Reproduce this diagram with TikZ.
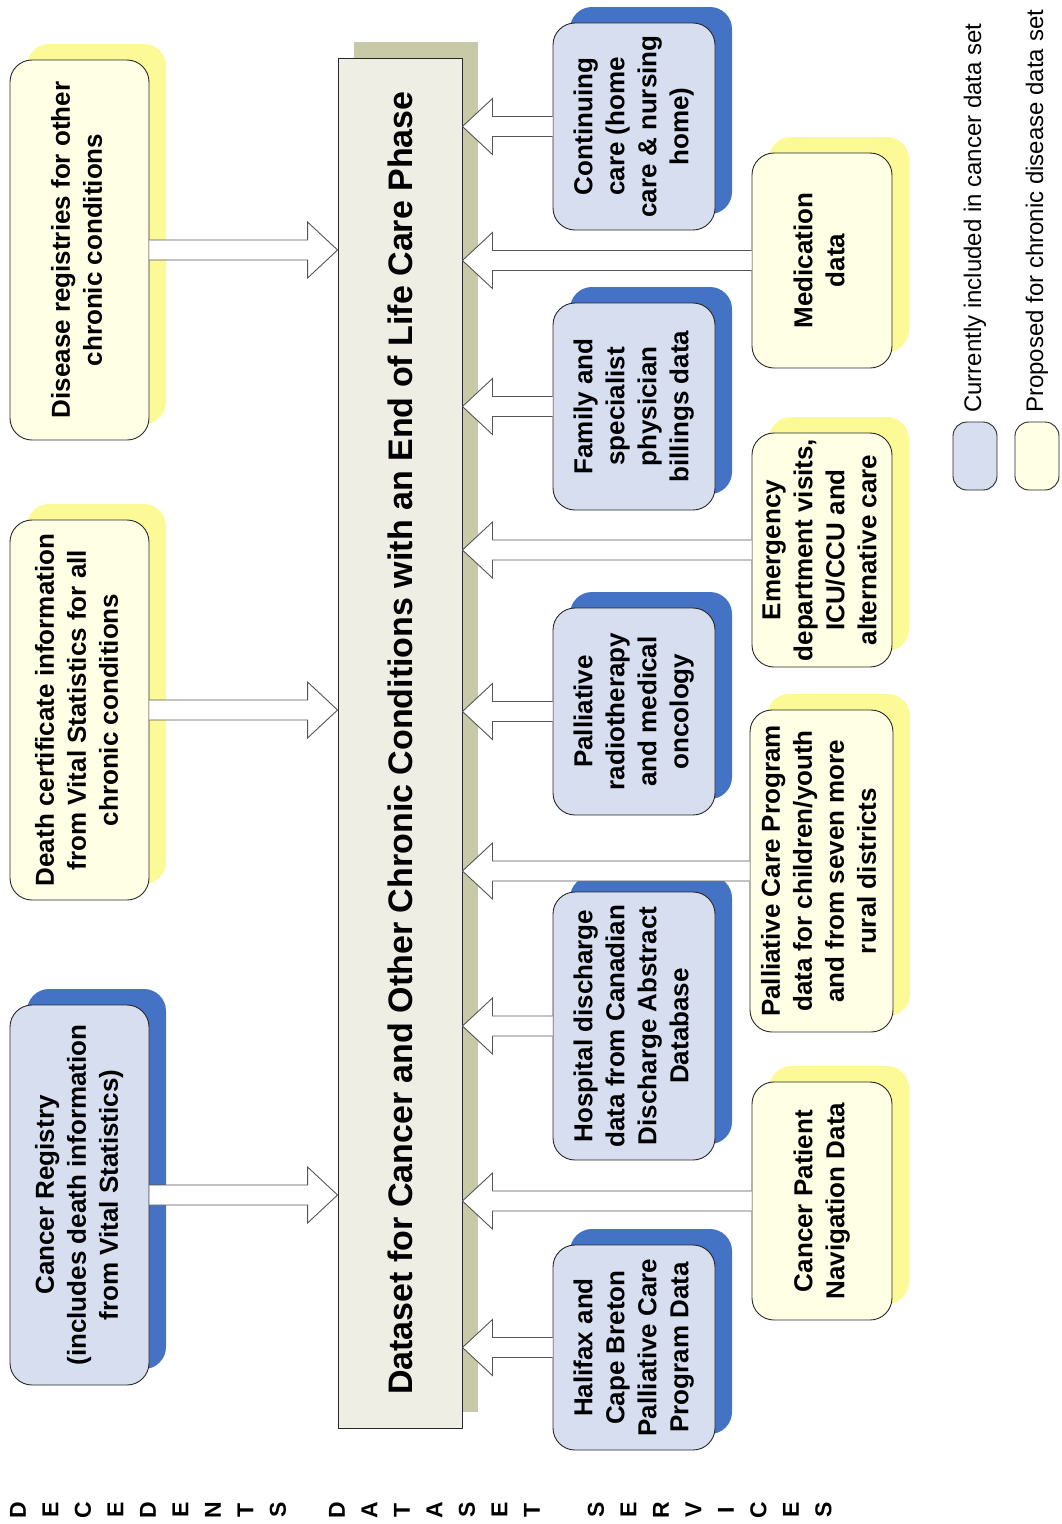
\documentclass[tikz,border=0pt]{standalone}
\usepackage{fontspec}
\setmainfont{Liberation Sans}
\usepackage{graphicx}
\usetikzlibrary{calc,shadows}

\definecolor{bluefill}{RGB}{214,222,240}
\definecolor{blueshade}{RGB}{68,114,196}
\definecolor{yellowfill}{RGB}{255,255,230}
\definecolor{yellowshade}{RGB}{252,250,150}
\definecolor{mainfill}{RGB}{238,238,228}
\definecolor{mainshade}{RGB}{200,202,167}
\definecolor{boxline}{RGB}{40,40,40}
\definecolor{arrowline}{RGB}{85,85,85}

% rotated, centred lines of a box
\newcommand{\vtext}[1]{\rotatebox{90}{\begin{tabular}{@{}c@{}}#1\end{tabular}}}
% hollow block arrow from #1 to #2
\newcommand{\feedarrow}[2]{%
  \draw[feed] let \p1=(#1), \p2=(#2), \p3=($(#2)!30pt!(#1)$) in
    (\x1,\y1+10pt) -- (\x3,\y1+10pt) -- (\x3,\y1+28pt) -- (\x2,\y2)
    -- (\x3,\y1-28pt) -- (\x3,\y1-10pt) -- (\x1,\y1-10pt);}

\tikzset{
  srcbox/.style={draw=boxline,line width=0.9pt,rounded corners=22pt,inner sep=2pt},
  bluebox/.style={srcbox,fill=bluefill,
    drop shadow={shadow xshift=17pt,shadow yshift=16pt,opacity=1,fill=blueshade}},
  yellowbox/.style={srcbox,fill=yellowfill,
    drop shadow={shadow xshift=17pt,shadow yshift=16pt,opacity=1,fill=yellowshade}},
  mainbox/.style={draw=boxline,line width=0.9pt,fill=mainfill,inner sep=2pt,
    drop shadow={shadow xshift=16pt,shadow yshift=16pt,opacity=1,fill=mainshade}},
  feed/.style={draw=arrowline,fill=white,line width=0.9pt,line join=miter},
  keybox/.style={draw=boxline,line width=0.9pt,rounded corners=14pt,
    minimum width=44pt,minimum height=68pt,inner sep=0pt},
  keytext/.style={rotate=90,anchor=west,inner sep=0pt,font=\fontsize{24}{28}\selectfont},
  sideletter/.style={rotate=90,inner sep=0pt,font=\fontsize{23}{23}\selectfont\bfseries}
}

\begin{document}
\begin{tikzpicture}[x=1pt,y=-1pt,line join=round,font=\fontsize{26}{32}\selectfont\bfseries]
\useasboundingbox (0,0) rectangle (1061,1524);
% dataset
\node[mainbox,minimum width=124pt,minimum height=1370pt] (main) at (400,743)
  {\rotatebox{90}{\fontsize{34}{40}\selectfont Dataset for Cancer and Other Chronic Conditions with an End of Life Care Phase}};
% decedents
\node[yellowbox,minimum width=139pt,minimum height=380pt] (disreg) at (79.5,250)
  {\vtext{Disease registries for other\\chronic conditions}};
\node[yellowbox,minimum width=139pt,minimum height=380pt] (deathcert) at (79.5,710)
  {\vtext{Death certificate information\\from Vital Statistics for all\\chronic conditions}};
\node[bluebox,minimum width=139pt,minimum height=380pt] (canreg) at (79.5,1195)
  {\vtext{Cancer Registry\\(includes death information\\from Vital Statistics)}};
% services, inner column
\node[bluebox,minimum width=162pt,minimum height=207pt] (contcare) at (634,126.5)
  {\vtext{Continuing\\care (home\\care \& nursing\\home)}};
\node[bluebox,minimum width=162pt,minimum height=207pt] (billing) at (634,406.5)
  {\vtext{Family and\\specialist\\physician\\billings data}};
\node[bluebox,minimum width=162pt,minimum height=207pt] (radio) at (634,711.5)
  {\vtext{Palliative\\radiotherapy\\and medical\\oncology}};
\node[bluebox,minimum width=162pt,minimum height=268pt] (hospital) at (634,1026)
  {\vtext{Hospital discharge\\data from Canadian\\Discharge Abstract\\Database}};
\node[bluebox,minimum width=162pt,minimum height=205pt] (halifax) at (634,1347.5)
  {\vtext{Halifax and\\Cape Breton\\Palliative Care\\Program Data}};
% services, outer column
\node[yellowbox,minimum width=140pt,minimum height=215pt] (medication) at (822,260.5)
  {\vtext{Medication\\data}};
\node[yellowbox,minimum width=140pt,minimum height=234pt] (emergency) at (822,550)
  {\vtext{Emergency\\department visits,\\ICU/CCU and\\alternative care}};
\node[yellowbox,minimum width=143pt,minimum height=322pt] (pcprogram) at (821.5,871)
  {\vtext{Palliative Care Program\\data for children/youth\\and from seven more\\rural districts}};
\node[yellowbox,minimum width=140pt,minimum height=238pt] (navigation) at (822,1201)
  {\vtext{Cancer Patient\\Navigation Data}};
% arrows into the dataset
\feedarrow{disreg.east}{main.west |- disreg.east}
\feedarrow{deathcert.east}{main.west |- deathcert.east}
\feedarrow{canreg.east}{main.west |- canreg.east}
\feedarrow{contcare.west}{main.east |- contcare.west}
\feedarrow{medication.west}{main.east |- medication.west}
\feedarrow{billing.west}{main.east |- billing.west}
\feedarrow{emergency.west}{main.east |- emergency.west}
\feedarrow{radio.west}{main.east |- radio.west}
\feedarrow{pcprogram.west}{main.east |- pcprogram.west}
\feedarrow{hospital.west}{main.east |- hospital.west}
\feedarrow{navigation.west}{main.east |- navigation.west}
\feedarrow{halifax.west}{main.east |- halifax.west}
% legend
\node[keybox,fill=bluefill] (keyblue) at (975,456) {};
\node[keybox,fill=yellowfill] (keyyellow) at (1037,456) {};
\node[keytext] (keybluetxt) at (975,413) {Currently included in cancer data set};
\node[keytext] (keyyellowtxt) at (1037,413) {Proposed for chronic disease data set};
% column labels
\foreach \c [count=\i from 0] in {D,E,C,E,D,E,N,T,S}
  \node[sideletter] (dec\i) at (18+32.5*\i,1510) {\c};
\foreach \c [count=\i from 0] in {D,A,T,A,S,E,T}
  \node[sideletter] (dat\i) at (337+32.5*\i,1510) {\c};
\foreach \c [count=\i from 0] in {S,E,R,V,I,C,E,S}
  \node[sideletter] (ser\i) at (596+32.5*\i,1510) {\c};
\end{tikzpicture}
\end{document}
